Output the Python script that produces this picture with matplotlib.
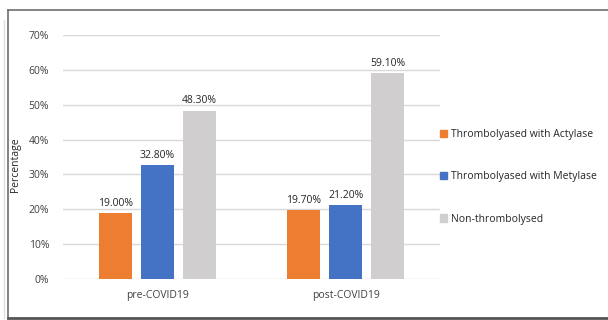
import numpy as np
import matplotlib.pyplot as plt
from matplotlib.lines import Line2D
from matplotlib.ticker import PercentFormatter

plt.rcParams['font.family'] = ['Open Sans', 'DejaVu Sans']

# ----------- data ----------- #
periods = ['pre-COVID19', 'post-COVID19']
series = ['Thrombolyased with Actylase', 'Thrombolyased with Metylase', 'Non-thrombolysed']
actylase = [19.0, 19.7]
metylase = [32.8, 21.2]
non_thromb = [48.3, 59.1]
colors = ['#ED7D31', '#4472C4', '#D0CECE']

values = [actylase, metylase, non_thromb]

fig = plt.figure(figsize=(6.08, 3.2), dpi=100)
ax = fig.add_axes([0.1036, 0.128, 0.62, 0.7625])

x = np.arange(len(periods))
width = 0.175
step = 0.222
for i, (name, vals, c) in enumerate(zip(series, values, colors)):
    pos = x + (i - 1) * step
    bars = ax.bar(pos, vals, width, color=c, label=name, zorder=3)
    for b, v in zip(bars, vals):
        ax.text(b.get_x() + b.get_width() / 2, v + 1.2, f'{v:.2f}%',
                ha='center', va='bottom', fontsize=7.5, color='#262626')

ax.set_xlim(-0.5, 1.5)
ax.set_ylim(0, 70)
ax.set_yticks(np.arange(0, 71, 10))
ax.yaxis.set_major_formatter(PercentFormatter(decimals=0))
ax.set_xticks(x)
ax.set_xticklabels(periods)
ax.grid(axis='y', color='#D9D9D9', linewidth=1, zorder=0)
for s in ax.spines.values():
    s.set_visible(False)
ax.tick_params(length=0, labelsize=7.5, colors='#404040')
ax.tick_params(axis='y', pad=10)
ax.tick_params(axis='x', pad=8)
ax.set_ylabel('Percentage', fontsize=7.5, color='#262626')
ax.yaxis.set_label_coords(-0.112, 0.47)

handles = [plt.Rectangle((0, 0), 1, 1, color=c) for c in colors]
fig.legend(handles, series, loc='center left', bbox_to_anchor=(0.708, 0.447),
           frameon=False, fontsize=7.5, handlelength=0.7, handleheight=0.7,
           handletextpad=0.4, labelspacing=3.0, labelcolor='#262626')

# outer frame
W, H = 608, 320
fig.add_artist(Line2D([7.5 / W, 7.5 / W], [1 - 9.5 / H, 1 - 318 / H], color='#6E6E6E', lw=1.2))
fig.add_artist(Line2D([7.5 / W, 1], [1 - 9.5 / H, 1 - 9.5 / H], color='#6E6E6E', lw=1.2))
fig.add_artist(Line2D([7.5 / W, 1], [1 - 318 / H, 1 - 318 / H], color='#555555', lw=2))
fig.add_artist(Line2D([4 / W, 4 / W], [1 - 20 / H, 1 - 318 / H], color='#E0E0E0', lw=1))

fig.savefig('out.png', dpi=100)
